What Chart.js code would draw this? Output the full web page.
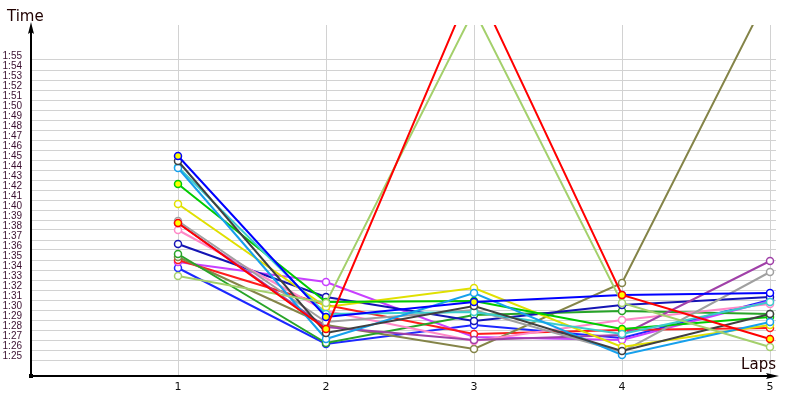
<!DOCTYPE html>
<html>
<head>
<meta charset="utf-8">
<script src="https://cdn.jsdelivr.net/npm/chart.js@4.4.1/dist/chart.umd.min.js"></script>
<style>
  html, body { margin: 0; padding: 0; background: #fff; }
  #wrap { width: 800px; height: 400px; }
</style>
</head>
<body>
<div id="wrap"><canvas id="chart" width="800" height="400"></canvas></div>
<script>
const laps = [1, 2, 3, 4, 5];
const timeTicks = ['1:25', '1:26', '1:27', '1:28', '1:29', '1:30', '1:31', '1:32', '1:33', '1:34',
    '1:35', '1:36', '1:37', '1:38', '1:39', '1:40', '1:41', '1:42', '1:43', '1:44', '1:45',
    '1:46', '1:47', '1:48', '1:49', '1:50', '1:51', '1:52', '1:53', '1:54', '1:55'];
const firstTick = 85; // 1:25 in seconds

// lap times, seconds
const red = [98.7, 88.1, 122.9, 91.5, 87.1];
const lightGreen = [93.4, 90.7, 120.0, 90.7, 86.3];
const blue = [105.4, 89.3, 90.8, 91.5, 91.7];
const darkGrey = [104.9, 87.7, 90.4, 85.9, 89.6];
const lightBlue = [104.2, 87.1, 91.7, 85.5, 88.8];
const teal = [104.3, 89.6, 89.8, 87.6, 90.8];
const green = [102.6, 90.8, 90.9, 88.1, 89.3];
const yellow = [100.6, 90.3, 92.2, 86.3, 88.5];
const grey = [98.9, 88.8, 90.0, 85.8, 93.8];
const purple = [98.7, 88.3, 87.0, 87.5, 94.9];
const pink = [98.0, 89.9, 86.9, 89.0, 90.6];
const navy = [96.6, 91.3, 88.9, 90.5, 91.3];
const green2 = [95.6, 86.7, 89.5, 89.9, 89.6];
const olive = [95.3, 88.5, 86.1, 92.7, 121.9];
const red2 = [95.0, 90.5, 87.6, 88.0, 88.2];
const violet = [94.8, 92.8, 87.3, 87.0, 90.9];
const blue2 = [94.2, 86.6, 88.5, 87.2, 91.0];

// laps drawn with a yellow filled marker
const marked = {
    red: [0, 1, 3, 4],
    blue: [0, 1, 2],
    teal: [0],
    green: [0, 1, 3],
    blue2: [3],
};

const lines = [
    ['red', red, '#ff0000'],
    ['lightGreen', lightGreen, '#a4d06c'],
    ['blue', blue, '#0000ff'],
    ['darkGrey', darkGrey, '#404040'],
    ['lightBlue', lightBlue, '#16a0ec'],
    ['teal', teal, '#3ccccc'],
    ['green', green, '#00cc00'],
    ['yellow', yellow, '#e0e000'],
    ['grey', grey, '#a0a0a0'],
    ['purple', purple, '#a040a8'],
    ['pink', pink, '#ff88c8'],
    ['navy', navy, '#1414b4'],
    ['green2', green2, '#28a428'],
    ['olive', olive, '#848448'],
    ['red2', red2, '#ff1c1c'],
    ['violet', violet, '#c840ff'],
    ['blue2', blue2, '#1c28ff'],
];

const datasets = lines.map(([name, times, color]) => ({
    label: name,
    data: laps.map((lap, i) => ({ x: lap, y: times[i] })),
    borderColor: color,
    borderWidth: 2,
    pointBorderColor: color,
    pointBorderWidth: 1.5,
    pointRadius: 3.5,
    pointBackgroundColor: laps.map((lap, i) => ((marked[name] || []).includes(i) ? '#ffff00' : '#ffffff')),
    tension: 0,
    clip: 0,
}));

const axesPlugin = {
    id: 'axes',
    afterDraw(chart) {
        const ctx = chart.ctx;
        const a = chart.chartArea;
        ctx.save();
        ctx.strokeStyle = '#000';
        ctx.fillStyle = '#000';
        ctx.lineWidth = 2;
        // y axis
        ctx.beginPath();
        ctx.moveTo(31, a.bottom);
        ctx.lineTo(31, a.top + 6);
        ctx.stroke();
        ctx.beginPath();
        ctx.moveTo(31, a.top - 3);
        ctx.lineTo(34, a.top + 9);
        ctx.lineTo(31, a.top + 7);
        ctx.lineTo(28, a.top + 9);
        ctx.closePath();
        ctx.fill();
        // x axis
        ctx.beginPath();
        ctx.moveTo(30, 376);
        ctx.lineTo(770, 376);
        ctx.stroke();
        ctx.beginPath();
        ctx.moveTo(779, 376);
        ctx.lineTo(766, 373);
        ctx.lineTo(768, 376);
        ctx.lineTo(766, 379);
        ctx.closePath();
        ctx.fill();
        ctx.fillRect(29, 374, 4, 4);
        // titles
        ctx.fillStyle = '#200000';
        ctx.font = '15px "DejaVu Sans"';
        ctx.textBaseline = 'alphabetic';
        ctx.textAlign = 'left';
        ctx.fillText('Time', 7, 21);
        ctx.textAlign = 'right';
        ctx.fillText('Laps', 776, 369);
        ctx.restore();
    },
};

new Chart(document.getElementById('chart'), {
    type: 'line',
    data: { datasets },
    options: {
        responsive: false,
        animation: false,
        devicePixelRatio: 1,
        layout: { padding: { top: 25, right: 24, left: 0, bottom: 0 } },
        plugins: { legend: { display: false }, tooltip: { enabled: false } },
        scales: {
            x: {
                type: 'linear',
                min: 0,
                max: 5 * 746 / 740,
                afterBuildTicks: (s) => {
                    s.ticks = laps.map((v) => ({ value: v }));
                },
                afterFit: (s) => {
                    s.height = 25;
                },
                grid: { color: '#d2d2d2', lineWidth: 1, drawTicks: false },
                border: { display: false },
                ticks: {
                    autoSkip: false,
                    maxRotation: 0,
                    padding: 6,
                    color: '#101010',
                    font: { family: 'DejaVu Sans', size: 11 },
                    callback: (v) => v,
                },
            },
            y: {
                min: 83.5,
                max: 118.5,
                afterBuildTicks: (s) => {
                    s.ticks = timeTicks.map((t, i) => ({ value: firstTick + i }));
                },
                afterFit: (s) => {
                    s.width = 30;
                },
                grid: { color: '#d2d2d2', lineWidth: 1, drawTicks: false },
                border: { display: false },
                ticks: {
                    autoSkip: false,
                    padding: 8,
                    labelOffset: -4,
                    color: '#3a1030',
                    font: { family: 'Liberation Sans', size: 10 },
                    callback: (v, i) => timeTicks[i],
                },
            },
        },
    },
    plugins: [axesPlugin],
});
</script>
</body>
</html>
